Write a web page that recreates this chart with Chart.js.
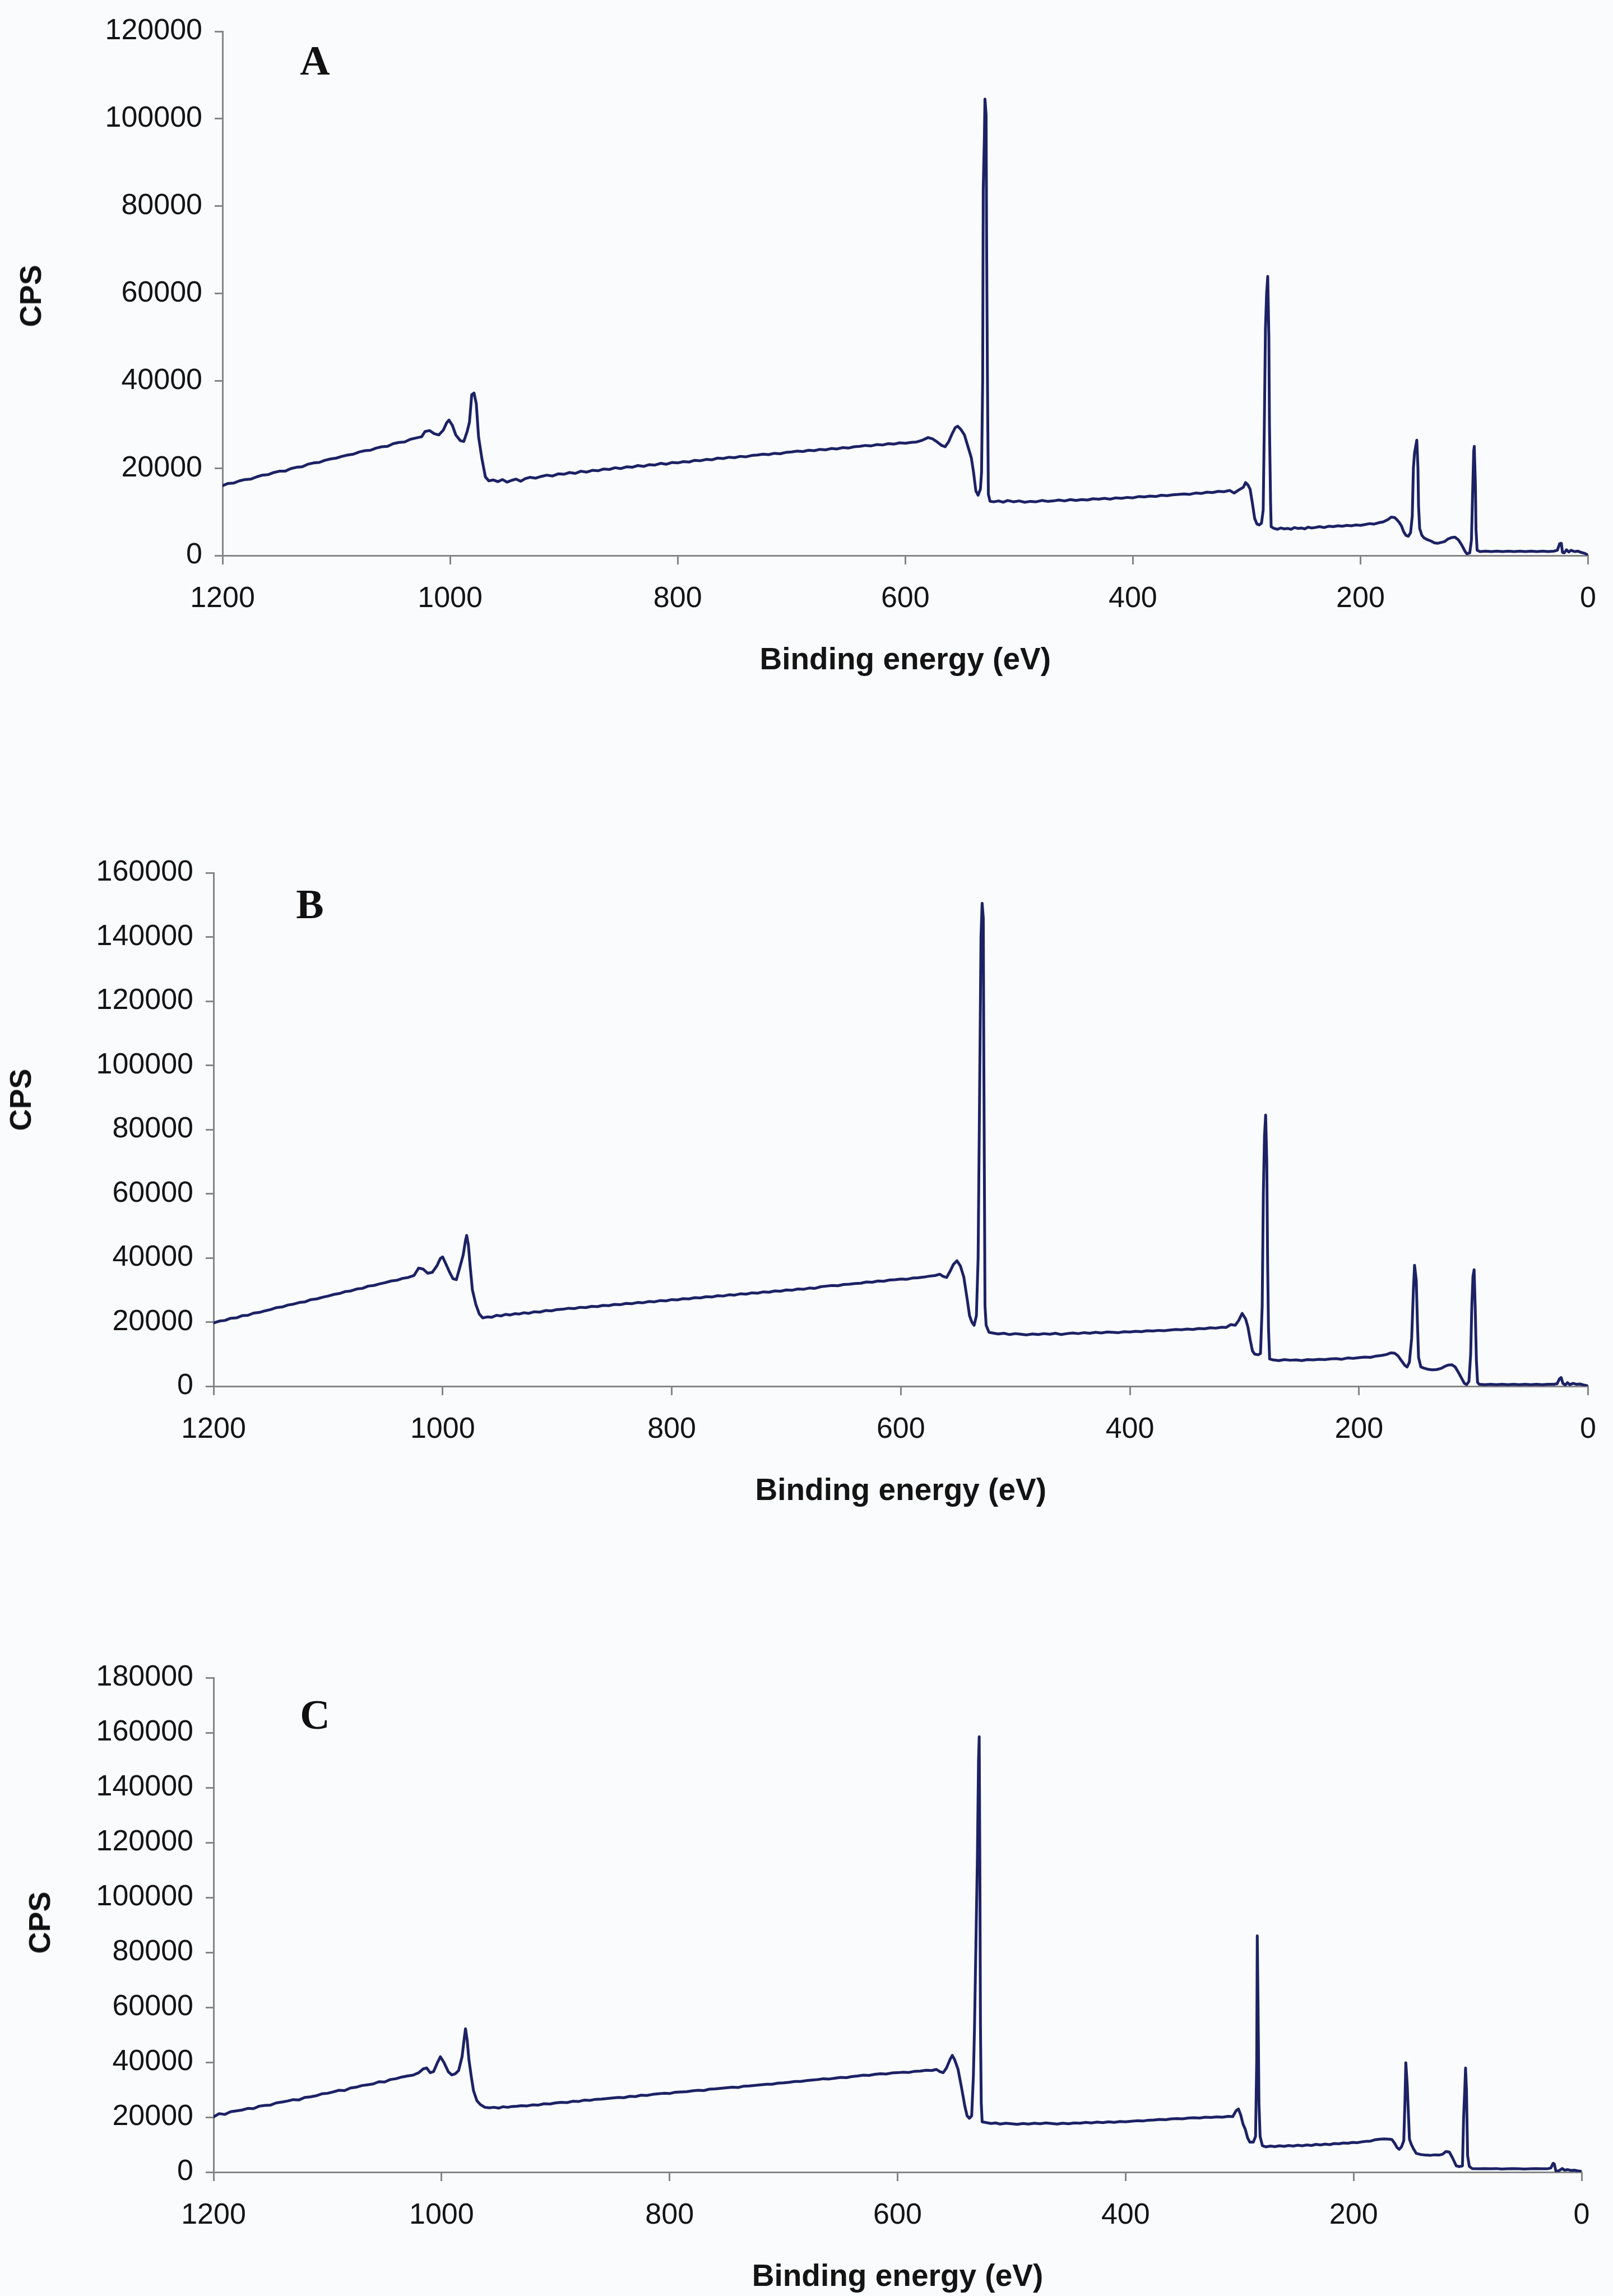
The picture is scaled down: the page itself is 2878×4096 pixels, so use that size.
<!DOCTYPE html>
<html>
<head>
<meta charset="utf-8">
<title>XPS survey spectra</title>
<script src="https://cdn.jsdelivr.net/npm/chart.js@4"></script>
<style>
  html, body { margin: 0; padding: 0; }
  body { width: 2878px; height: 4096px; overflow: hidden; background: #fafbfd; position: relative;
         font-family: 'Liberation Sans', Arial, sans-serif; }
  canvas { position: absolute; left: 0; }
  .ytitle { position: absolute; font: bold 54px 'Liberation Sans', Arial, sans-serif; color: #111;
            transform: translate(-50%, -50%) rotate(-90deg); white-space: nowrap; }
  .letter { position: absolute; font: bold 74px 'Liberation Serif', 'Times New Roman', serif; color: #111;
            transform: translate(-50%, -50%); }
</style>
</head>
<body>
<canvas id="chartA"></canvas>
<canvas id="chartB"></canvas>
<canvas id="chartC"></canvas>
<div class="ytitle" style="left:54px; top:528px;">CPS</div>
<div class="ytitle" style="left:36px; top:1962px;">CPS</div>
<div class="ytitle" style="left:70px; top:3430px;">CPS</div>
<div class="letter" style="left:562px; top:108px;">A</div>
<div class="letter" style="left:553px; top:1613px;">B</div>
<div class="letter" style="left:562px; top:3059px;">C</div>
<script>
// ---- Axis ticks ----
const energyTicks = [1200, 1000, 800, 600, 400, 200, 0];
const cpsTicksA = [0, 20000, 40000, 60000, 80000, 100000, 120000];
const cpsTicksB = [0, 20000, 40000, 60000, 80000, 100000, 120000, 140000, 160000];
const cpsTicksC = [0, 20000, 40000, 60000, 80000, 100000, 120000, 140000, 160000, 180000];

// ---- Spectrum A: binding energy (eV) and counts per second ----
const energyA = [
  1200,1195,1190,1185,1180,1175,1170,1165,1160,1155,1150,1145,1140,1135,1130,1125,1120,1115,1110,1105,
  1100,1095,1090,1085,1080,1075,1070,1065,1060,1055,1050,1045,1040,1035,1030,1025,1022,1018,1014,1010,
  1006,1003,1001,998,995,991,988,985,983,981,979,977,975,972,969,966,962,958,954,950,
  946,942,938,934,930,925,920,915,910,905,900,895,890,885,880,875,870,865,860,855,
  850,845,840,835,830,825,820,815,810,805,800,795,790,785,780,775,770,765,760,755,
  750,745,740,735,730,725,720,715,710,705,700,695,690,685,680,675,670,665,660,655,
  650,645,640,635,630,625,620,615,610,605,600,595,590,585,580,576,572,568,565,562,
  559,556,554,551,548,545,542,540,538,536,534,533,532,531.5,530.5,530,529,528.5,527.8,527,
  525.5,522,518,514,510,505,500,495,490,485,480,475,470,465,460,455,450,445,440,435,
  430,425,420,415,410,405,400,395,390,385,380,375,370,365,360,355,350,345,340,335,
  330,325,320,315,311,307,303,301,299,297,295,293,291,289,287,285.5,284.5,283.5,282.5,281.5,
  280.5,280,279,278.5,276,273,270,267,264,261,258,255,252,249,246,243,240,236,232,228,
  224,220,216,212,208,204,200,196,192,188,184,180,176,173,170,168,166,164,162,160,
  158,156,154.5,153.5,152.5,150.5,149.5,149,148,146,144,141,138,135,132,129,126,123,120,117,
  114,111,108,106.5,104,102.5,101.5,100.5,100,99,98.5,97.5,95,90,85,80,75,70,65,60,
  55,50,45,40,35,30,27,25,23.5,22.5,21,19,17,15,12,9,6,3,0
];
const cpsA = [
  16000,16500,16600,17100,17400,17500,18000,18400,18500,19000,19300,19300,19900,20200,20300,20900,21200,21300,21800,22100,
  22300,22700,23000,23200,23700,24000,24100,24600,24900,25000,25600,25900,26000,26600,26900,27200,28400,28600,27900,27600,
  28700,30400,31000,29800,27600,26300,26100,28400,30500,36800,37200,34800,27200,22100,18000,17100,17300,16900,17400,16800,
  17200,17500,17000,17600,17900,17700,18100,18400,18200,18700,18600,19000,18800,19300,19100,19500,19400,19800,19700,20100,
  19900,20300,20200,20600,20400,20800,20700,21100,20900,21300,21200,21500,21400,21800,21700,22000,21900,22300,22200,22500,
  22400,22700,22600,22900,23000,23200,23100,23400,23300,23600,23700,23900,23800,24100,24000,24300,24200,24500,24400,24700,
  24600,24900,25000,25200,25100,25400,25300,25600,25500,25800,25700,25900,26000,26400,27000,26700,26000,25200,24900,26000,
  27800,29300,29600,28800,27600,25000,22400,19000,14800,13800,15200,19000,40000,84000,96000,104500,101000,70000,40000,14000,
  12400,12300,12500,12200,12600,12300,12500,12200,12400,12300,12600,12400,12500,12700,12500,12800,12600,12800,12700,13000,
  12900,13100,12900,13200,13100,13300,13200,13500,13400,13600,13500,13800,13700,13900,14000,14100,14000,14300,14200,14500,
  14400,14700,14600,14900,14300,15000,15600,16700,16200,15200,12000,8500,7200,7000,7400,10400,30000,52000,60000,63900,
  50000,30000,12000,6600,6200,6000,6300,6100,6200,6000,6400,6200,6300,6100,6500,6300,6400,6600,6400,6700,
  6600,6800,6700,6900,6800,7000,6900,7100,7300,7200,7500,7700,8200,8800,8700,8200,7600,6800,5400,4600,
  4400,5200,9000,20000,23500,26400,20000,11500,6200,4600,4000,3600,3300,2900,2800,3000,3200,3800,4100,4200,
  3600,2400,900,400,600,3500,14000,24000,25000,16000,6000,1200,900,1000,900,1000,900,1000,900,1000,
  900,1000,900,1000,900,1000,1200,2700,2800,700,600,1300,800,1200,900,1000,700,500,100
];

// ---- Spectrum B ----
const energyB = [
  1200,1195,1190,1185,1180,1175,1170,1165,1160,1155,1150,1145,1140,1135,1130,1125,1120,1115,1110,1105,
  1100,1095,1090,1085,1080,1075,1070,1065,1060,1055,1050,1045,1040,1035,1030,1025,1021,1017,1013,1009,
  1005,1002,1000,997,994,991,988,985,982,980,979,977.5,976,974,971,968,965,961,957,953,
  949,945,941,937,933,929,925,920,915,910,905,900,895,890,885,880,875,870,865,860,
  855,850,845,840,835,830,825,820,815,810,805,800,795,790,785,780,775,770,765,760,
  755,750,745,740,735,730,725,720,715,710,705,700,695,690,685,680,675,670,665,660,
  655,650,645,640,635,630,625,620,615,610,605,600,595,590,585,580,575,570,566,563,
  560,557,554,551,548,545,542,540,538,536,534,532.5,531,530,529,528,527.5,527,526.5,525.5,
  523,520,515,510,505,500,495,490,485,480,475,470,465,460,455,450,445,440,435,430,
  425,420,415,410,405,400,395,390,385,380,375,370,365,360,355,350,345,340,335,330,
  325,320,316,312,308,305,302,299,297,295,293,291,288,286,284.5,283.5,282.5,281.5,280.5,279.8,
  279,278,275,270,265,260,255,250,245,240,235,230,225,220,215,210,205,200,195,190,
  185,180,176,172,169,166,163,160,158,156,154,152.5,151.5,150,149,148,146,143,140,136,
  132,128,125,122,119,116,113,110,108,106,104,102.5,101.5,100.5,99.5,98.5,97.5,96.5,95,90,
  85,80,75,70,65,60,55,50,45,40,35,30,27,25,23.5,22,20,18,16,13,
  10,7,4,0
];
const cpsB = [
  19700,20300,20500,21200,21300,22000,22100,22800,23000,23500,23900,24500,24700,25300,25600,26100,26300,27000,27200,27700,
  28100,28600,28900,29500,29700,30300,30500,31200,31400,31900,32300,32800,33000,33600,33900,34500,36800,36500,35200,35500,
  37500,39800,40300,38000,35600,33500,33200,37000,41000,45500,47000,44000,37500,30000,25500,22500,21300,21600,21500,22100,
  21900,22400,22200,22600,22500,22900,22700,23200,23100,23600,23500,23900,24000,24300,24200,24600,24500,24900,24800,25200,
  25100,25500,25400,25800,25700,26100,26000,26400,26300,26700,26600,27000,26900,27300,27200,27600,27500,27900,27800,28200,
  28100,28500,28400,28800,28700,29100,29000,29400,29300,29700,29600,30000,29900,30300,30200,30600,30500,31000,31200,31400,
  31300,31700,31800,32000,32100,32500,32400,32800,32700,33100,33200,33400,33300,33700,33800,34000,34300,34500,34900,34200,
  33900,35800,38000,39100,37500,34000,27000,22000,20000,19000,22000,40000,100000,140000,150500,146000,100000,62000,25000,19000,
  16800,16600,16300,16500,16100,16400,16200,16000,16300,16100,16400,16200,16500,16100,16400,16600,16400,16700,16500,16800,
  16600,16900,16800,16700,17000,16900,17100,17000,17300,17200,17400,17300,17500,17700,17600,17800,17700,18000,17900,18200,
  18100,18400,18300,19200,19000,20500,22700,21000,18500,14500,11000,10000,9800,10200,25000,60000,78000,84500,70000,40000,
  18000,8500,8200,8000,8300,8100,8200,8000,8300,8200,8400,8300,8500,8600,8400,8800,8700,8900,9100,9000,
  9400,9600,9900,10400,10300,9500,8000,6500,6000,7500,15000,30000,37700,33000,20000,9000,6000,5600,5300,5100,
  5200,5600,6200,6600,6700,6000,4200,2200,900,500,1500,10000,25000,34200,36300,24000,8000,1200,600,500,
  600,500,600,500,600,500,600,500,600,500,600,600,800,2300,2700,900,400,1100,500,900,
  600,700,400,100
];

// ---- Spectrum C ----
const energyC = [
  1200,1195,1190,1185,1180,1175,1170,1165,1160,1155,1150,1145,1140,1135,1130,1125,1120,1115,1110,1105,
  1100,1095,1090,1085,1080,1075,1070,1065,1060,1055,1050,1045,1040,1035,1030,1025,1020,1016,1013,1010,
  1007,1004,1001,998,994,991,988,985,982,980,979,977.5,976,974,972,969,966,962,958,954,
  950,946,942,938,934,930,925,920,915,910,905,900,895,890,885,880,875,870,865,860,
  855,850,845,840,835,830,825,820,815,810,805,800,795,790,785,780,775,770,765,760,
  755,750,745,740,735,730,725,720,715,710,705,700,695,690,685,680,675,670,665,660,
  655,650,645,640,635,630,625,620,615,610,605,600,595,590,585,580,575,570,566,563,
  560,557,554,552,550,547,544,541,539,537,535,533.5,532.5,531,530,529,528.4,527.8,527.3,526.6,
  525.8,522,518,514,510,505,500,495,490,485,480,475,470,465,460,455,450,445,440,435,
  430,425,420,415,410,405,400,395,390,385,380,375,370,365,360,355,350,345,340,335,
  330,325,320,315,310,306,303,301,299,297,295,293,291,288,286,285,284.5,283.8,283,282,
  280,277,273,269,265,261,257,253,249,245,241,237,233,229,225,221,217,213,209,205,
  201,197,193,189,185,181,177,173,169,166.5,164,162,160,158,156,155,154.2,153,152,151,
  149.5,147.5,145,141,137,133,129,125,122,119,116,113,110,107,104.5,103.5,102.5,101.8,101,100,
  98.5,96,90,85,80,75,70,65,60,55,50,45,40,35,30,27,25,24,22.5,20,
  17,15,12,9,6,3,0
];
const cpsC = [
  20100,21300,21000,22000,22300,22600,23200,23100,24000,24300,24400,25200,25500,25900,26400,26300,27200,27400,27800,28500,
  28700,29200,29800,29700,30600,30900,31500,31800,32100,32900,32800,33700,34000,34600,35000,35300,36200,37600,37900,36200,
  36600,39500,42000,40000,36500,35400,35800,37000,42000,49000,52200,48000,41000,35000,29700,26000,24600,23600,23400,23600,
  23300,23800,23600,23900,24000,24200,24100,24500,24400,24900,24800,25200,25400,25300,25800,25700,26200,26100,26500,26600,
  26800,27000,27200,27100,27600,27500,28000,27900,28300,28500,28700,28600,29100,29200,29300,29600,29800,29700,30200,30300,
  30500,30700,30900,30800,31300,31400,31600,31800,32000,32000,32400,32500,32700,33000,33000,33300,33500,33700,34000,33900,
  34200,34500,34400,34800,35000,35300,35200,35600,35800,35700,36100,36200,36400,36300,36700,36800,37100,37000,37400,36600,
  36200,38000,41000,42500,41000,37500,31000,24000,20500,19600,20500,35000,53000,90000,114000,150000,158500,110000,53000,25000,
  18300,18000,17700,17900,17500,17800,17600,17400,17700,17500,17800,17600,17900,17700,17500,17800,17600,17900,17800,18100,
  17900,18200,18000,18300,18100,18400,18300,18500,18700,18600,18900,19000,19200,19100,19400,19500,19400,19700,19800,19700,
  20000,19900,20100,20000,20300,20200,22400,23000,20800,17500,15600,12500,10900,10900,13000,40000,86000,60000,25000,13000,
  9600,9200,9500,9300,9600,9400,9700,9500,9800,9600,9900,9700,10100,9900,10200,10000,10400,10300,10600,10500,
  10800,10700,11000,11200,11300,11800,12000,12100,12000,11900,10500,9000,8300,9200,11400,25000,39800,32000,22000,12000,
  10200,8500,6800,6400,6200,6100,6300,6200,6500,7500,7300,5000,2300,2000,2300,20000,30000,37900,30000,6000,
  2100,1300,1200,1300,1200,1300,1100,1200,1300,1200,1100,1200,1300,1200,1200,1500,3200,3000,300,500,
  1300,700,900,600,700,400,300
];

// ---- Drawing ----
const LINE_COLOR = '#1c2264';
const AXIS_COLOR = '#858585';
const TEXT_COLOR = '#141414';
const FONT = "'Liberation Sans', Arial, sans-serif";
const W = 2878;

// Panel frames: canvas placement and plot-area edges (page pixels)
const panels = [
  { id: 'chartA', energy: energyA, cps: cpsA, ticks: cpsTicksA, canvasTop: 0,    plotTop: 56,   plotBottom: 991,  plotLeft: 397, plotRight: 2852 },
  { id: 'chartB', energy: energyB, cps: cpsB, ticks: cpsTicksB, canvasTop: 1300, plotTop: 1557, plotBottom: 2473, plotLeft: 381, plotRight: 2859 },
  { id: 'chartC', energy: energyC, cps: cpsC, ticks: cpsTicksC, canvasTop: 2900, plotTop: 2993, plotBottom: 3875, plotLeft: 381, plotRight: 2822 }
];
const X_BLOCK = 221; // x tick marks, labels and title below the plot area

panels.forEach(p => {
  const canvas = document.getElementById(p.id);
  const h = p.plotBottom + X_BLOCK - p.canvasTop;
  canvas.width = W; canvas.height = h;
  canvas.style.width = W + 'px'; canvas.style.height = h + 'px';
  canvas.style.top = p.canvasTop + 'px';

  const points = p.energy.map((e, i) => ({ x: e, y: p.cps[i] }));
  const yMax = p.ticks[p.ticks.length - 1];
  const yStep = p.ticks[1] - p.ticks[0];
  const xStep = energyTicks[0] - energyTicks[1];

  new Chart(canvas, {
    type: 'line',
    data: { datasets: [{ data: points, borderColor: LINE_COLOR, borderWidth: 5, pointRadius: 0,
                         tension: 0, fill: false, borderJoinStyle: 'round', borderCapStyle: 'round' }] },
    options: {
      responsive: false, animation: false, devicePixelRatio: 1, parsing: true,
      layout: { padding: { top: p.plotTop - p.canvasTop, right: W - p.plotRight, left: 0, bottom: 0 } },
      plugins: { legend: { display: false }, tooltip: { enabled: false } },
      scales: {
        x: {
          type: 'linear', reverse: true,
          min: energyTicks[energyTicks.length - 1], max: energyTicks[0],
          afterFit: s => { s.height = X_BLOCK; },
          border: { display: true, color: AXIS_COLOR, width: 3 },
          grid: { drawOnChartArea: false, drawTicks: true, tickLength: 16, color: AXIS_COLOR, lineWidth: 3 },
          ticks: { stepSize: xStep, padding: 30, color: TEXT_COLOR, autoSkip: false, maxRotation: 0,
                   font: { family: FONT, size: 52 }, callback: v => String(v) },
          title: { display: true, text: 'Binding energy (eV)', color: TEXT_COLOR, padding: 0,
                   font: { family: FONT, size: 55, weight: 'bold' } }
        },
        y: {
          type: 'linear', min: p.ticks[0], max: yMax,
          afterFit: s => { s.width = p.plotLeft; },
          border: { display: true, color: AXIS_COLOR, width: 3 },
          grid: { drawOnChartArea: false, drawTicks: true, tickLength: 14, color: AXIS_COLOR, lineWidth: 3 },
          ticks: { stepSize: yStep, padding: 22, color: TEXT_COLOR, autoSkip: false,
                   font: { family: FONT, size: 52 }, callback: v => String(v) }
        }
      }
    }
  });
});
</script>
</body>
</html>
